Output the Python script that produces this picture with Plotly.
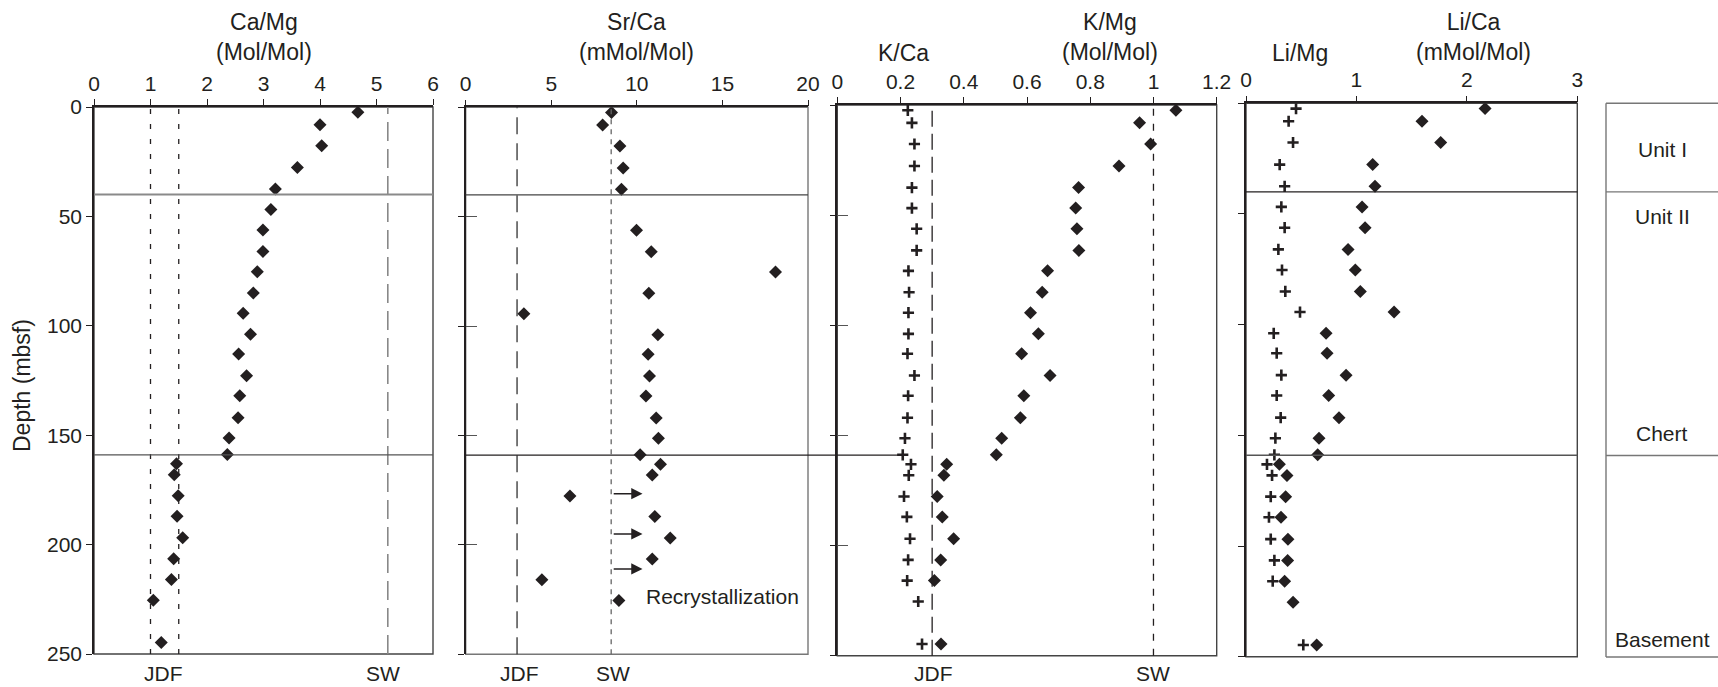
import plotly.graph_objects as go

W, H = 1718, 687

# ---------------- data ----------------
depth = [2.4, 8.1, 17.7, 27.7, 37.5, 46.8, 56.2, 66.0, 75.3, 85.0, 94.3, 103.9,
         112.9, 122.8, 132.0, 142.0, 151.3, 158.8, 163.1, 168.1, 177.7, 187.0,
         196.9, 206.5, 215.9, 225.4, 244.7]

ca_mg = [4.67, 4.00, 4.03, 3.60, 3.21, 3.13, 2.99, 2.99, 2.89, 2.82, 2.64, 2.77,
         2.56, 2.70, 2.58, 2.55, 2.39, 2.36, 1.46, 1.42, 1.49, 1.47, 1.57, 1.41,
         1.37, 1.05, 1.19]

sr_ca = [8.52, 8.00, 9.01, 9.20, 9.10, None, 9.98, 10.84, 18.10, 10.70, 3.40, 11.23,
         10.66, 10.74, 10.53, 11.13, 11.26, 10.19, 11.38, 10.90, 6.09, 11.05, 11.95, 10.90,
         4.45, 8.95, None]

k_ca = [0.223, 0.236, 0.244, 0.244, 0.236, 0.236, 0.251, 0.251, 0.225, 0.227, 0.225, 0.225,
        0.222, 0.244, 0.224, 0.222, 0.214, 0.207, 0.233, 0.226, 0.211, 0.220, 0.230, 0.224,
        0.221, 0.256, 0.268]

k_mg = [1.071, 0.956, 0.991, 0.891, 0.763, 0.754, 0.758, 0.764, 0.665, 0.648, 0.611, 0.636,
        0.583, 0.673, 0.590, 0.579, 0.520, 0.503, 0.346, 0.337, 0.316, 0.332, 0.368, 0.327,
        0.307, None, 0.328]

li_mg = [0.453, 0.386, 0.426, 0.305, 0.350, 0.320, 0.350, 0.293, 0.326, 0.356, 0.489, 0.251,
         0.278, 0.320, 0.278, 0.314, 0.266, 0.257, 0.190, 0.236, 0.224, 0.208, 0.224, 0.257,
         0.242, None, 0.519]

li_ca = [2.165, 1.594, 1.763, 1.147, 1.168, 1.051, 1.078, 0.924, 0.990, 1.035, 1.341, 0.725,
         0.734, 0.906, 0.749, 0.842, 0.661, 0.649, 0.302, 0.371, 0.359, 0.317, 0.380, 0.377,
         0.350, 0.426, 0.640]

# reference values (JDF = Juan de Fuca fluid, SW = seawater)
camg_jdf = [1.0, 1.5]
camg_sw = 5.2
srca_jdf = 3.0
srca_sw = 8.5
k_jdf = 0.3
k_sw = 1.0

unit_bounds = [0, 40, 159, 250]
unit_labels = ["Unit I", "Unit II", "Chert", "Basement"]
unit_label_depths = [21, 51, 149, 242]

recryst_depths = [176.6, 195.0, 211.0]
recryst_from, recryst_to = 8.56, 10.33

depth_ticks = [0, 50, 100, 150, 200, 250]

# ---------------- layout geometry ----------------
FONT = "Liberation Sans, Arial, Helvetica, sans-serif"
INK = "#231f20"

PANELS = {  # left, right, top, bottom (px)
    1: (94, 433, 107, 654),
    2: (465.7, 808, 107.3, 654.3),
    3: (837.3, 1216.7, 105, 655.7),
    4: (1246, 1577.3, 103.3, 656.7),
}
XRANGE = {1: [0, 6], 2: [0, 20], 3: [0, 1.2], 4: [0, 3]}
DTICK = {1: 1, 2: 5, 3: 0.2, 4: 1}
UNITS_BOX = (1606, 103.3, 657)  # left, top, bottom


def xdom(p):
    l, r, t, b = PANELS[p]
    return [l / W, r / W]


def ydom(p):
    l, r, t, b = PANELS[p]
    return [1 - b / H, 1 - t / H]


def to_paper_x(p, v):
    l, r, t, b = PANELS[p]
    lo, hi = XRANGE[p]
    return (l + (v - lo) / (hi - lo) * (r - l)) / W


def to_paper_y(p, d):
    l, r, t, b = PANELS[p]
    return 1 - (t + d / 250 * (b - t)) / H


fig = go.Figure()

diamond = dict(symbol="diamond", size=10, color=INK, line=dict(width=0))
plus = dict(symbol="cross-thin", size=8, color=INK, line=dict(width=2.6, color=INK))

fig.add_trace(go.Scatter(x=ca_mg, y=depth, mode="markers", marker=diamond,
                         xaxis="x", yaxis="y", name="Ca/Mg"))
fig.add_trace(go.Scatter(x=sr_ca, y=depth, mode="markers", marker=diamond,
                         xaxis="x2", yaxis="y2", name="Sr/Ca"))
fig.add_trace(go.Scatter(x=k_ca, y=depth, mode="markers", marker=plus,
                         xaxis="x3", yaxis="y3", name="K/Ca"))
fig.add_trace(go.Scatter(x=k_mg, y=depth, mode="markers", marker=diamond,
                         xaxis="x3", yaxis="y3", name="K/Mg"))
fig.add_trace(go.Scatter(x=li_mg, y=depth, mode="markers", marker=plus,
                         xaxis="x4", yaxis="y4", name="Li/Mg"))
fig.add_trace(go.Scatter(x=li_ca, y=depth, mode="markers", marker=diamond,
                         xaxis="x4", yaxis="y4", name="Li/Ca"))
# dummy traces so the overlaying (inside-tick) axes are drawn
fig.add_trace(go.Scatter(x=[None], y=[None], xaxis="x2", yaxis="y6", showlegend=False, hoverinfo="skip"))
fig.add_trace(go.Scatter(x=[None], y=[None], xaxis="x3", yaxis="y7", showlegend=False, hoverinfo="skip"))

layout = dict(
    width=W, height=H, margin=dict(l=0, r=0, t=0, b=0, autoexpand=False),
    paper_bgcolor="white", plot_bgcolor="rgba(0,0,0,0)",
    showlegend=False,
    font=dict(family=FONT, size=21, color=INK),
)

for p in range(1, 5):
    sx = "" if p == 1 else str(p)
    layout["xaxis" + sx] = dict(
        domain=xdom(p), range=XRANGE[p], side="top", anchor="y" + sx,
        dtick=DTICK[p], tick0=0, ticks="outside", ticklen=6, tickwidth=1.3, tickcolor=INK,
        showline=True, linewidth=2 if p == 1 else 1.6, linecolor=INK,
        showgrid=False, zeroline=False, tickfont=dict(size=21, color=INK),
        fixedrange=True, automargin=False,
    )
    layout["yaxis" + sx] = dict(
        domain=ydom(p), range=[250, 0], anchor="x" + sx,
        tickvals=depth_ticks, ticks="outside", ticklen=6, tickwidth=1.3, tickcolor=INK,
        showline=True, linewidth=1.6, linecolor=INK,
        showgrid=False, zeroline=False, showticklabels=(p == 1),
        tickfont=dict(size=21, color=INK), fixedrange=True, automargin=False,
    )

# inside half of the crossing ticks for panels 2 and 3
for name, over in (("yaxis6", "y2"), ("yaxis7", "y3")):
    layout[name] = dict(
        overlaying=over, anchor="x" + over[1], range=[250, 0],
        tickvals=depth_ticks, ticks="inside", ticklen=11, tickwidth=1.3, tickcolor="#555",
        showline=False, showgrid=False, zeroline=False, showticklabels=False,
        fixedrange=True, automargin=False,
    )

fig.update_layout(**layout)

shapes = []
ann = []

# frames (right / bottom edges)
for p in range(1, 5):
    sx = "" if p == 1 else str(p)
    shapes.append(dict(type="rect", xref="x" + sx + " domain", yref="y" + sx + " domain",
                       x0=0, x1=1, y0=0, y1=1, layer="below",
                       line=dict(color="#444" if p in (1, 3, 4) else "#777", width=1.4)))


def vline(p, x, color, dash, width=1.3, y1=1.0):
    sx = "" if p == 1 else str(p)
    shapes.append(dict(type="line", xref="x" + sx, yref="y" + sx + " domain",
                       x0=x, x1=x, y0=0, y1=y1,
                       line=dict(color=color, width=width, dash=dash)))


for v in camg_jdf:
    vline(1, v, INK, "5px,10px")
vline(1, camg_sw, "#888", "19px,8px", 1.6)
vline(2, srca_jdf, "#333", "17px,9px", 1.3)
vline(2, srca_sw, "#666", "5px,5px", 1.3)
vline(3, k_jdf, INK, "16px,7px", 1.3)
vline(3, k_sw, INK, "7px,8px", 1.3)


def hline(p, d, color, width=1.3):
    sx = "" if p == 1 else str(p)
    shapes.append(dict(type="line", xref="x" + sx + " domain", yref="y" + sx,
                       x0=0, x1=1, y0=d, y1=d, line=dict(color=color, width=width)))


hline(1, unit_bounds[1], "#8a8a8a", 2)
hline(1, unit_bounds[2], "#555", 1.3)
hline(2, unit_bounds[1], "#444", 1.3)
hline(4, unit_bounds[1], INK, 1.3)
hline(4, unit_bounds[2], "#555", 1.3)
# chert line of panel 2 runs on across the gap into panel 3
yp = to_paper_y(2, unit_bounds[2])
shapes.append(dict(type="line", xref="paper", yref="paper",
                   x0=xdom(2)[0], x1=to_paper_x(3, 0.207), y0=yp, y1=yp,
                   line=dict(color=INK, width=1.3)))

# lithology column
ux, ut, ub = UNITS_BOX


def unit_y(d):
    return 1 - (ut + d / 250 * (ub - ut)) / H


shapes.append(dict(type="line", xref="paper", yref="paper", x0=ux / W, x1=ux / W,
                   y0=unit_y(0), y1=unit_y(250), line=dict(color="#777", width=1.4)))
for d in unit_bounds:
    shapes.append(dict(type="line", xref="paper", yref="paper", x0=ux / W, x1=1.0,
                       y0=unit_y(d), y1=unit_y(d), line=dict(color="#777", width=1.4)))
for lab, d in zip(unit_labels, unit_label_depths):
    ann.append(dict(text=lab, xref="paper", yref="paper", x=1662 / W, y=unit_y(d),
                    showarrow=False, xanchor="center", yanchor="middle",
                    font=dict(size=21, color=INK)))

# column titles
titles = [
    (1, 3.0, "Ca/Mg<br>(Mol/Mol)", 2),
    (2, 10.0, "Sr/Ca<br>(mMol/Mol)", 2),
    (3, 0.208, "K/Ca", 1),
    (3, 0.864, "K/Mg<br>(Mol/Mol)", 2),
    (4, 0.49, "Li/Mg", 1),
    (4, 2.06, "Li/Ca<br>(mMol/Mol)", 2),
]
for p, x, txt, nl in titles:
    sx = "" if p == 1 else str(p)
    yc = 37.5 if nl == 2 else 53
    ann.append(dict(text=txt, xref="x" + sx, yref="paper", x=x, y=1 - yc / H,
                    showarrow=False, xanchor="center", yanchor="middle",
                    font=dict(size=23, color=INK)))

# bottom reference labels
bottom = [(1, 1.23, "JDF"), (1, 5.12, "SW"), (2, 3.17, "JDF"), (2, 8.62, "SW"),
          (3, 0.303, "JDF"), (3, 1.0, "SW")]
for p, x, txt in bottom:
    sx = "" if p == 1 else str(p)
    ann.append(dict(text=txt, xref="x" + sx, yref="paper", x=x, y=1 - 673 / H,
                    showarrow=False, xanchor="center", yanchor="middle",
                    font=dict(size=21, color=INK)))

# recrystallization arrows + label
for d in recryst_depths:
    ann.append(dict(text="", xref="x2", yref="y2", x=recryst_to, y=d,
                    axref="x2", ayref="y2", ax=recryst_from, ay=d,
                    showarrow=True, arrowhead=2, arrowsize=1.5, arrowwidth=1.5,
                    arrowcolor=INK))
ann.append(dict(text="Recrystallization", xref="x2", yref="y2", x=10.41, y=223.8,
                showarrow=False, xanchor="left", yanchor="middle",
                font=dict(size=21, color=INK)))

# y-axis title
ann.append(dict(text="Depth (mbsf)", xref="paper", yref="paper", x=22 / W, y=1 - 386 / H,
                showarrow=False, textangle=-90, xanchor="center", yanchor="middle",
                font=dict(size=23, color=INK)))

fig.update_layout(shapes=shapes, annotations=ann)
fig.write_html(
    "out.html",
    config={"displayModeBar": False},
    post_script="document.body.style.margin='0px';document.body.style.overflow='hidden';",
)
